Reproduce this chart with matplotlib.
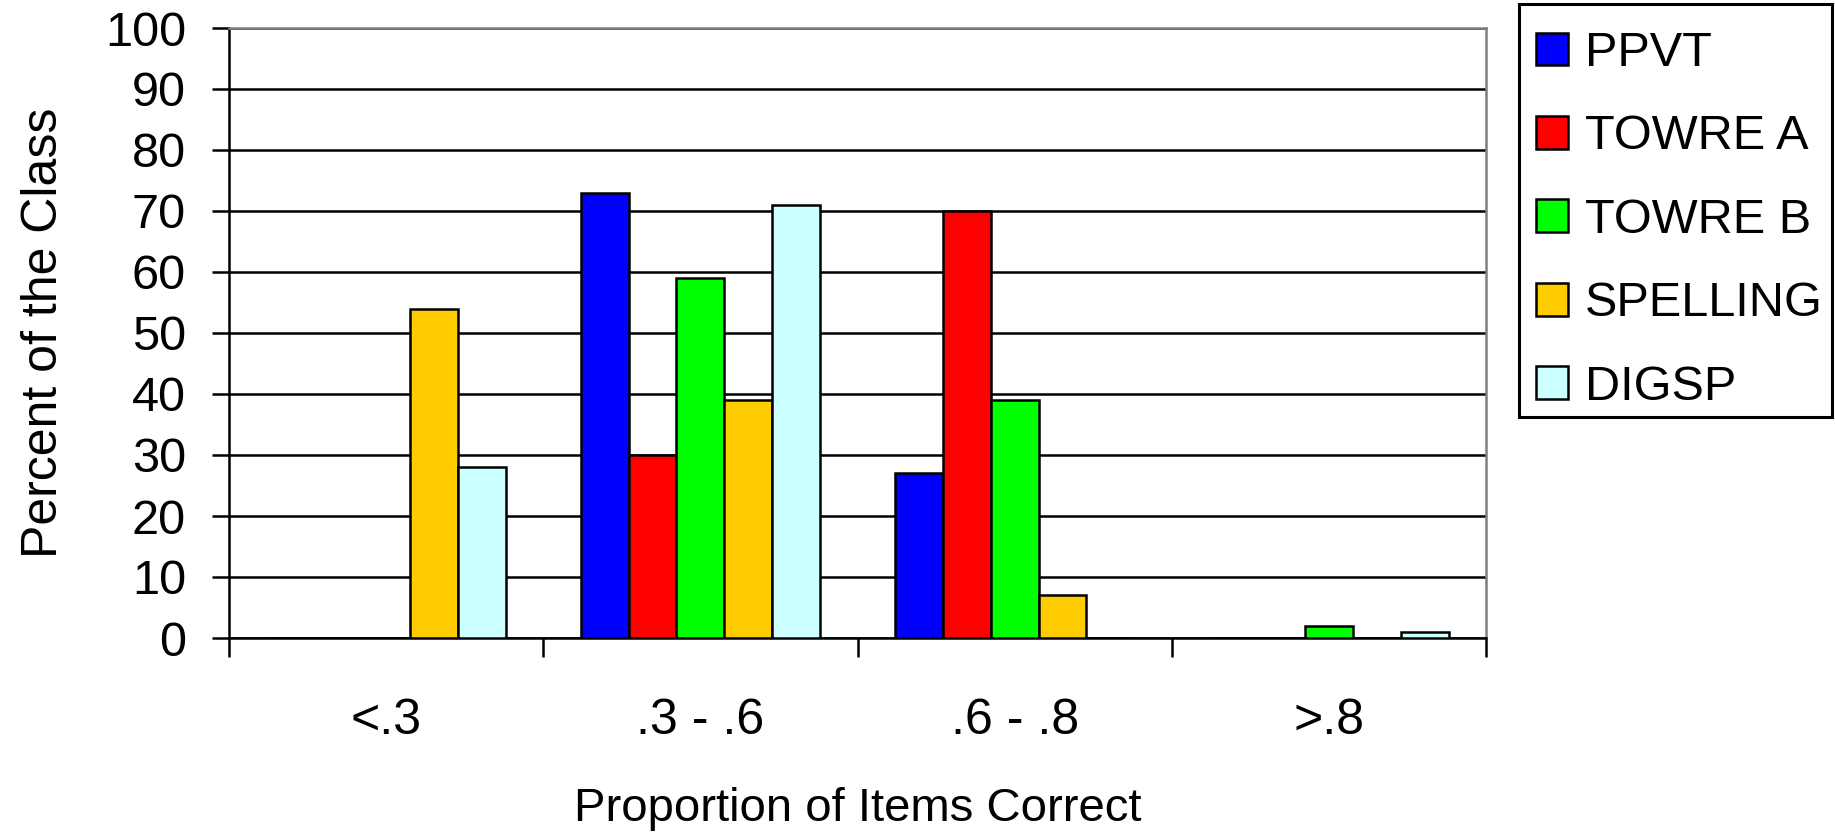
import matplotlib
matplotlib.use("Agg")
import matplotlib.pyplot as plt
from matplotlib.patches import Patch, Rectangle
import numpy as np

categories = ["<.3", ".3 - .6", ".6 - .8", ">.8"]
series_names = ["PPVT", "TOWRE A", "TOWRE B", "SPELLING", "DIGSP"]
ppvt = [0, 73, 27, 0]
towre_a = [0, 30, 70, 0]
towre_b = [0, 59, 39, 2]
spelling = [54, 39, 7, 0]
digsp = [28, 71, 0, 1]
colors = ["#0000FF", "#FF0000", "#00FF00", "#FFCC00", "#CCFFFF"]

plt.rcParams["font.family"] = ["Liberation Sans", "DejaVu Sans"]

W, H = 1835, 833
fig = plt.figure(figsize=(W / 100, H / 100), dpi=100)
ax = fig.add_axes([229 / W, 1 - 638 / H, (1486 - 229) / W, (638 - 28) / H])

values = [ppvt, towre_a, towre_b, spelling, digsp]
x = np.arange(len(categories))
bw = 0.1524
for i, (vals, c) in enumerate(zip(values, colors)):
    offs = (i - 2) * bw
    ax.bar(x + offs, vals, width=bw, color=c, edgecolor="black",
           linewidth=1.8, zorder=3)

ax.set_xlim(-0.5, len(categories) - 0.5)
ax.set_ylim(0, 100)
ax.set_yticks(np.arange(0, 101, 10))
ax.yaxis.grid(True, color="black", linewidth=1.8, zorder=1)
ax.set_axisbelow(True)

ax.set_xticks(x)
ax.set_xticklabels(categories, fontsize=36)
ax.set_xticks(np.arange(-0.5, len(categories)), minor=True)
ax.tick_params(axis="x", which="major", length=0, pad=43)
ax.tick_params(axis="x", which="minor", length=14, width=1.8,
               direction="out", color="black")
ax.tick_params(axis="y", which="major", length=12, width=1.8,
               direction="out", labelsize=35, pad=19)

for s in ["top", "right"]:
    ax.spines[s].set_color("#808080")
    ax.spines[s].set_linewidth(1.8)
ax.spines["left"].set_linewidth(1.8)
ax.spines["bottom"].set_linewidth(1.8)

ax.set_xlabel("Proportion of Items Correct", fontsize=34, labelpad=31)
ax.set_ylabel("Percent of the Class", fontsize=36, labelpad=27)

# legend entries, with a separately drawn box around them
handles = [Patch(facecolor=c, edgecolor="black", linewidth=1.8) for c in colors]
leg = fig.legend(handles, series_names, loc="upper left",
                 bbox_to_anchor=(1536 / W, 1 - 31 / H),
                 fontsize=35, frameon=False,
                 handlelength=0.66, handleheight=0.66,
                 handletextpad=0.35, labelspacing=0.79, borderpad=0,
                 borderaxespad=0)
fig.patches.append(Rectangle((1519 / W, 1 - 417 / H), (1832 - 1519) / W,
                             (417 - 4) / H, transform=fig.transFigure,
                             fill=False, edgecolor="black", linewidth=2.2))

fig.savefig("out.png", dpi=100)
